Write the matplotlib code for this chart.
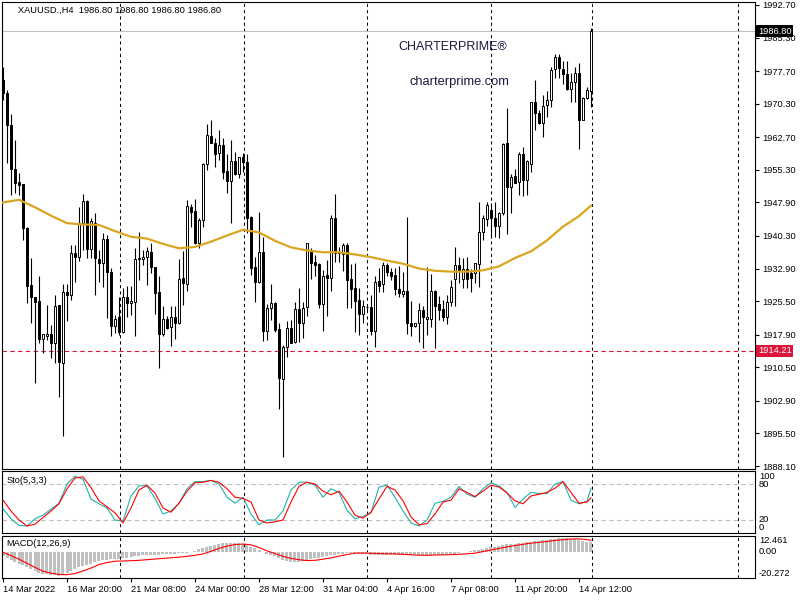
import numpy as np
import matplotlib
matplotlib.use('Agg')
import matplotlib.pyplot as plt
import matplotlib.transforms as mtransforms

plt.rcParams['font.family'] = ['Liberation Sans', 'DejaVu Sans']

# XAUUSD H4 candles (open, high, low, close)
opens = [1975.7, 1972.7, 1965.5, 1955.4, 1952.5, 1952.0, 1942.0, 1929.1, 1926.5, 1925.5,
         1916.9, 1917.5, 1918.0, 1916.1, 1924.6, 1911.4, 1927.5, 1926.8, 1936.4, 1935.5,
         1943.2, 1948.2, 1937.3, 1943.2, 1935.1, 1934.1, 1939.6, 1932.2, 1919.9, 1921.8,
         1918.4, 1926.4, 1925.0, 1925.4, 1935.0, 1935.0, 1935.5, 1936.7, 1933.3, 1927.5,
         1918.0, 1921.5, 1919.6, 1921.8, 1920.5, 1930.7, 1929.4, 1946.8, 1946.0, 1938.8,
         1943.9, 1956.6, 1963.0, 1961.3, 1959.2, 1961.0, 1955.0, 1952.8, 1957.3, 1954.3,
         1958.1, 1957.0, 1944.5, 1933.3, 1929.8, 1936.7, 1918.8, 1923.9, 1925.0, 1919.2,
         1907.8, 1915.2, 1919.3, 1916.3, 1923.7, 1920.6, 1924.1, 1937.1, 1934.4, 1933.9,
         1924.9, 1931.4, 1930.8, 1944.3, 1936.7, 1936.2, 1938.2, 1930.5, 1928.4, 1925.8,
         1922.7, 1924.1, 1924.1, 1918.8, 1930.1, 1929.3, 1933.6, 1932.2, 1931.4, 1928.3,
         1927.1, 1927.8, 1920.6, 1919.9, 1920.5, 1923.6, 1921.4, 1921.4, 1927.8, 1924.8,
         1923.7, 1922.0, 1925.2, 1930.5, 1933.7, 1930.5, 1932.7, 1932.0, 1931.8, 1933.9,
         1941.3, 1944.2, 1946.2, 1944.3, 1942.6, 1945.4, 1961.3, 1951.3, 1953.9, 1952.6,
         1959.0, 1953.0, 1956.6, 1970.6, 1968.3, 1965.9, 1969.9, 1971.1, 1978.1, 1980.8,
         1978.1, 1977.0, 1973.6, 1975.3, 1977.2, 1966.6, 1971.5, 1973.2]
highs = [1978.7, 1973.4, 1968.0, 1962.1, 1954.5, 1952.0, 1942.4, 1935.2, 1926.5, 1931.1,
         1918.0, 1924.6, 1920.1, 1926.9, 1924.6, 1929.5, 1929.5, 1938.2, 1938.2, 1946.9,
         1949.8, 1948.5, 1944.3, 1945.4, 1937.1, 1940.9, 1940.5, 1933.0, 1922.4, 1926.5,
         1928.6, 1929.0, 1928.9, 1937.5, 1941.1, 1937.1, 1937.9, 1938.6, 1933.3, 1931.1,
         1924.3, 1922.2, 1924.3, 1924.3, 1935.1, 1936.9, 1948.5, 1947.6, 1948.6, 1944.3,
         1956.9, 1965.7, 1966.5, 1962.5, 1964.3, 1962.5, 1959.0, 1962.1, 1959.4, 1958.3,
         1959.2, 1959.0, 1944.8, 1935.6, 1945.8, 1940.1, 1924.9, 1929.4, 1925.2, 1920.5,
         1915.6, 1920.9, 1921.2, 1925.2, 1928.4, 1925.4, 1938.8, 1937.5, 1936.0, 1934.1,
         1932.6, 1934.8, 1945.0, 1949.8, 1937.9, 1938.6, 1938.6, 1933.9, 1934.1, 1928.4,
         1925.8, 1924.6, 1926.9, 1931.1, 1933.0, 1934.5, 1934.1, 1933.0, 1933.0, 1933.5,
         1932.2, 1944.5, 1925.6, 1920.6, 1925.0, 1924.3, 1933.3, 1931.7, 1928.0, 1926.7,
         1925.8, 1926.9, 1930.3, 1937.7, 1935.5, 1935.2, 1935.5, 1932.7, 1934.1, 1948.1,
         1945.1, 1947.9, 1947.7, 1947.9, 1945.8, 1961.5, 1969.3, 1954.4, 1955.6, 1959.3,
         1960.4, 1957.5, 1970.6, 1975.7, 1968.9, 1972.3, 1973.2, 1978.7, 1981.6, 1981.6,
         1980.1, 1980.1, 1977.2, 1978.7, 1979.6, 1971.9, 1974.2, 1987.5]
lows = [1971.1, 1956.8, 1949.6, 1950.0, 1949.6, 1939.4, 1925.0, 1920.5, 1906.9, 1915.9,
        1913.7, 1916.7, 1912.5, 1911.4, 1903.7, 1894.8, 1921.1, 1925.8, 1929.9, 1934.7,
        1937.1, 1935.2, 1935.2, 1926.8, 1929.9, 1928.8, 1921.6, 1917.6, 1918.2, 1917.8,
        1918.2, 1922.0, 1922.4, 1917.6, 1930.3, 1933.7, 1929.2, 1931.8, 1922.6, 1910.4,
        1917.5, 1919.2, 1915.4, 1916.9, 1920.3, 1924.6, 1927.7, 1942.3, 1938.4, 1937.5,
        1942.4, 1955.3, 1961.3, 1956.0, 1957.5, 1953.2, 1950.0, 1943.2, 1954.1, 1953.4,
        1954.7, 1940.9, 1931.4, 1925.2, 1929.6, 1916.5, 1916.7, 1921.2, 1918.6, 1901.0,
        1890.1, 1912.8, 1915.9, 1915.9, 1916.3, 1917.1, 1922.2, 1930.5, 1931.3, 1923.9,
        1918.8, 1922.1, 1927.9, 1934.5, 1934.5, 1932.4, 1924.0, 1924.0, 1918.6, 1917.8,
        1920.5, 1923.5, 1917.8, 1915.2, 1927.5, 1927.5, 1931.1, 1930.3, 1926.9, 1926.5,
        1926.4, 1918.1, 1917.7, 1919.7, 1916.3, 1914.8, 1917.8, 1919.7, 1914.8, 1921.2,
        1920.9, 1920.3, 1924.3, 1924.3, 1929.6, 1928.4, 1928.4, 1927.5, 1929.6, 1928.8,
        1939.4, 1942.6, 1939.8, 1940.1, 1939.8, 1945.1, 1940.7, 1945.4, 1952.2, 1949.6,
        1949.4, 1949.6, 1954.9, 1964.3, 1965.7, 1962.7, 1967.4, 1969.5, 1976.1, 1976.1,
        1974.8, 1973.3, 1970.8, 1970.8, 1960.0, 1966.5, 1971.4, 1969.6]
closes = [1972.7, 1965.5, 1955.4, 1952.4, 1951.9, 1942.0, 1929.0, 1926.5, 1925.4, 1916.9,
          1918.0, 1918.0, 1916.1, 1924.4, 1911.6, 1927.5, 1926.8, 1936.4, 1935.5, 1943.2,
          1948.2, 1937.3, 1943.8, 1935.2, 1934.1, 1939.6, 1932.2, 1919.9, 1921.4, 1918.4,
          1926.4, 1925.0, 1925.5, 1935.1, 1935.2, 1935.5, 1936.9, 1933.3, 1927.4, 1918.0,
          1921.5, 1919.5, 1921.8, 1920.5, 1930.5, 1929.6, 1947.0, 1945.8, 1938.8, 1943.9,
          1956.6, 1963.2, 1961.3, 1959.0, 1961.0, 1954.9, 1952.8, 1957.3, 1954.3, 1958.1,
          1957.0, 1944.4, 1933.1, 1929.8, 1936.7, 1918.8, 1923.9, 1925.0, 1919.0, 1908.0,
          1915.2, 1919.3, 1916.1, 1923.7, 1920.6, 1923.9, 1938.6, 1934.2, 1933.7, 1924.9,
          1931.3, 1930.8, 1944.3, 1936.4, 1936.4, 1938.2, 1930.3, 1928.2, 1925.6, 1922.7,
          1924.5, 1924.1, 1918.8, 1929.8, 1928.9, 1933.6, 1932.2, 1931.3, 1928.2, 1927.3,
          1927.7, 1920.6, 1919.9, 1920.5, 1923.6, 1921.8, 1921.8, 1927.8, 1924.4, 1923.5,
          1922.0, 1925.2, 1928.8, 1933.6, 1932.6, 1932.9, 1930.5, 1930.7, 1934.1, 1941.3,
          1944.3, 1947.3, 1944.3, 1942.6, 1945.6, 1961.2, 1951.3, 1953.6, 1952.4, 1959.0,
          1953.0, 1957.2, 1970.6, 1968.3, 1965.9, 1969.8, 1971.1, 1978.0, 1980.8, 1978.3,
          1977.0, 1973.6, 1975.3, 1977.2, 1966.6, 1971.5, 1973.4, 1986.8]

# moving average (gold line), read every 4th bar
ma_bars = list(range(0, 148, 4)) + [147]
ma_vals = [1947.9, 1948.5, 1946.8, 1944.9, 1943.2, 1942.9, 1942.8, 1941.4, 1940.1, 1939.7,
           1938.5, 1937.5, 1937.8, 1939.0, 1940.4, 1941.7, 1941.1, 1939.2, 1937.7, 1937.0,
           1936.6, 1936.6, 1936.1, 1935.5, 1934.7, 1934.0, 1932.9, 1932.4, 1932.2, 1932.2,
           1932.5, 1933.4, 1935.3, 1936.8, 1939.3, 1942.4, 1944.8, 1947.2]

# Sto(5,3,3) main / signal, read every 2nd bar
sto_bars = list(range(0, 148, 2)) + [147]
sto_main = [39, 22, 11, 10, 22, 28, 38, 48, 80, 93, 88, 55, 47, 40, 20, 18, 60, 77, 77, 56,
            30, 35, 48, 72, 84, 84, 86, 80, 58, 48, 58, 30, 12, 20, 20, 35, 70, 83, 83, 78,
            58, 72, 66, 36, 22, 26, 32, 75, 78, 58, 35, 15, 10, 20, 48, 51, 58, 76, 63, 58,
            72, 82, 77, 66, 41, 55, 66, 64, 64, 80, 84, 53, 47, 51, 73]
sto_signal = [53, 35, 20, 10, 13, 24, 35, 47, 72, 90, 92, 74, 52, 42, 32, 15, 40, 70, 78, 65,
              40, 33, 48, 68, 82, 83, 86, 83, 72, 58, 56, 50, 20, 15, 17, 20, 50, 76, 83, 80,
              68, 62, 68, 50, 28, 23, 33, 55, 76, 70, 52, 25, 12, 14, 30, 50, 53, 72, 66, 59,
              68, 78, 75, 65, 52, 47, 60, 63, 66, 73, 84, 66, 48, 50, 57]

# MACD(12,26,9) histogram per bar, signal every 2nd bar
macd_hist = [-3.4, -5, -6.5, -7.5, -9, -10.5, -12, -13.5, -15, -16,
             -17, -17.5, -18, -18.3, -18.4, -17.6, -16.5, -15, -13.5, -12,
             -11, -10, -9, -8, -7, -6.4, -6, -5.5, -5.2, -5.2,
             -5, -4.4, -3.8, -3.4, -3, -2.7, -2.4, -2.2, -2.1, -2,
             -1.9, -1.7, -1.5, -1.3, -1.1, -0.9, -0.5, 0, 0.8, 2,
             3.2, 4.2, 5, 5.8, 6.3, 6.8, 7, 7.1, 7, 6.8,
             6.4, 5.5, 4.2, 2.8, 1.5, 0, -1.3, -2.4, -3.4, -4.8,
             -6, -6.8, -7.5, -7.8, -7.6, -7.2, -6.6, -5.8, -5, -4.3,
             -3.6, -3.2, -2.6, -2.1, -1.6, -1.2, -1, -1, -1.1, -1.3,
             -1.5, -1.7, -2, -2.3, -2.5, -2.5, -2.4, -2.2, -2, -2.1,
             -2.3, -2.5, -2.6, -2.7, -2.7, -2.6, -2.5, -2.4, -2.3, -2.1,
             -2, -1.8, -1.6, -1.2, -0.8, -0.3, 0.2, 0.6, 1.2, 1.8,
             2.4, 3, 3.6, 4.2, 5, 5.6, 6, 6.3, 6.5, 6.8,
             7, 7.4, 7.9, 8.3, 8.7, 9.1, 9.5, 9.9, 10.3, 10.6,
             10.9, 10.8, 10.4, 10, 9.3, 8.6, 8, 7.8]
macd_signal = [-0.3, -2.8, -5.6, -8.8, -12, -15, -16.5, -17.5, -17.7, -16.8,
               -14.8, -12.5, -9.8, -8.2, -7.2, -7.0, -6.8, -6.5, -6.0, -5.5,
               -5.0, -4.5, -4.0, -3.4, -2.6, -1.5, 0.5, 2.8, 4.6, 5.8,
               6.2, 5.6, 3.5, 0.9, -1.2, -3.4, -5.0, -6.0, -6.7, -6.5,
               -5.6, -4.6, -3.2, -2.0, -0.9, -0.8, -1.0, -1.2, -1.4, -1.5,
               -1.8, -2.2, -2.5, -2.6, -2.4, -2.2, -2.1, -1.8, -1.4, -0.9,
               0.3, 1.6, 2.8, 4.0, 5.0, 6.0, 6.9, 7.5, 8.2, 9.0,
               9.6, 10.1, 10.2, 9.7, 9.1]

price_ticks = [1992.70, 1985.30, 1977.70, 1970.30, 1962.70, 1955.30, 1947.90, 1940.30,
               1932.90, 1925.50, 1917.90, 1910.50, 1902.90, 1895.50, 1888.10]
date_bars = [0, 16, 32, 48, 64, 80, 96, 112, 128, 144]
date_labels = ['14 Mar 2022', '16 Mar 20:00', '21 Mar 08:00', '24 Mar 00:00', '28 Mar 12:00',
               '31 Mar 04:00', '4 Apr 16:00', '7 Apr 08:00', '11 Apr 20:00', '14 Apr 12:00']
grid_bars = [29.25, 60.25, 91, 122, 147.25, 183.75]
bid = 1986.80
level = 1914.21

FS = 6.7
fig = plt.figure(figsize=(8, 6), dpi=100)

def px_axes(x0, y0, x1, y1):
    return fig.add_axes([x0 / 800, 1 - y1 / 600, (x1 - x0) / 800, (y1 - y0) / 600])

ax = px_axes(2, 2, 755, 469)
ax_sto = px_axes(2, 471, 755, 533)
ax_macd = px_axes(2, 536, 755, 578)

bars = np.arange(len(closes))
o = np.array(opens)
c = np.array(closes)

for a in (ax, ax_sto, ax_macd):
    a.set_xlim(-0.25, 188)
    for s in a.spines.values():
        s.set_linewidth(0.8)
    for g in grid_bars:
        a.axvline(g, color='black', lw=0.75, ls=(0, (3, 3)), zorder=1)

# main candle chart
ax.vlines(bars, lows, highs, color='black', lw=0.8, zorder=2)
ax.bar(bars, np.abs(c - o), bottom=np.minimum(o, c), width=0.5,
       color=np.where(c >= o, 'white', 'black'), edgecolor='black', linewidth=0.7, zorder=3)
ax.plot(ma_bars, ma_vals, color='#DAA520', lw=1.6, zorder=4)
ax.axhline(bid, color='#c0c0c0', lw=0.8, zorder=1)
ax.axhline(level, color='#DC143C', lw=0.8, ls=(0, (4, 3)), zorder=1)
ax.set_ylim(1887.42, 1993.38)
ax.set_xticks([])
ax.yaxis.tick_right()
ax.set_yticks(price_ticks)
ax.set_yticklabels(['%.2f' % p for p in price_ticks])
ax.tick_params(axis='y', length=3, width=0.8, labelsize=FS, pad=2)

trans = mtransforms.blended_transform_factory(ax.transAxes, ax.transData)
ax.text(1.004, bid, '%.2f' % bid, transform=trans, fontsize=FS, color='white', va='center',
        ha='left', bbox=dict(facecolor='black', edgecolor='none', pad=1.2), zorder=10, clip_on=False)
ax.text(1.004, level, '%.2f' % level, transform=trans, fontsize=FS, color='white', va='center',
        ha='left', bbox=dict(facecolor='#DC143C', edgecolor='none', pad=1.2), zorder=10, clip_on=False)

ax.text(0.0215, 0.983, 'XAUUSD.,H4  1986.80 1986.80 1986.80 1986.80', transform=ax.transAxes,
        fontsize=FS, va='center', ha='left')
fig.text(453 / 800, 1 - 47 / 600, 'CHARTERPRIME®', fontsize=9, color='#1a1a40', ha='center', va='center')
fig.text(459.5 / 800, 1 - 82 / 600, 'charterprime.com', fontsize=9.3, color='#1a1a40', ha='center', va='center')

# stochastic
ax_sto.axhline(80, color='#c0c0c0', lw=0.8, ls=(0, (4, 3)))
ax_sto.axhline(20, color='#c0c0c0', lw=0.8, ls=(0, (4, 3)))
ax_sto.plot(sto_bars, sto_main, color='#20B2AA', lw=0.8, zorder=3)
ax_sto.plot(sto_bars, sto_signal, color='red', lw=0.8, zorder=4)
ax_sto.set_ylim(-1.7, 101.7)
ax_sto.set_xticks([])
ax_sto.set_yticks([])
ax_sto.text(0.006, 0.84, 'Sto(5,3,3)', transform=ax_sto.transAxes, fontsize=FS, va='center')
tr_s = mtransforms.blended_transform_factory(ax_sto.transAxes, ax_sto.transData)
for v, va in [(100, 'top'), (80, 'center'), (20, 'center'), (0, 'bottom')]:
    ax_sto.text(1.005, v, str(v), transform=tr_s, fontsize=FS, va=va, ha='left', clip_on=False)

# MACD
ax_macd.bar(bars, macd_hist, width=0.75, color='#c0c0c0', zorder=2)
ax_macd.plot(sto_bars, macd_signal, color='red', lw=0.8, zorder=3)
ax_macd.set_ylim(-20.272, 12.461)
ax_macd.set_yticks([])
ax_macd.text(0.006, 0.82, 'MACD(12,26,9)', transform=ax_macd.transAxes, fontsize=FS, va='center')
tr_m = mtransforms.blended_transform_factory(ax_macd.transAxes, ax_macd.transData)
for v, s, va in [(12.461, '12.461', 'top'), (0.0, '0.00', 'center'), (-20.272, '-20.272', 'bottom')]:
    ax_macd.text(1.005, v, s, transform=tr_m, fontsize=FS, va=va, ha='left', clip_on=False)
ax_macd.set_xticks(date_bars)
ax_macd.set_xticklabels(date_labels, ha='left')
ax_macd.tick_params(axis='x', length=3, width=0.8, labelsize=FS, pad=2)

fig.savefig('out.png', dpi=100, facecolor='white')
